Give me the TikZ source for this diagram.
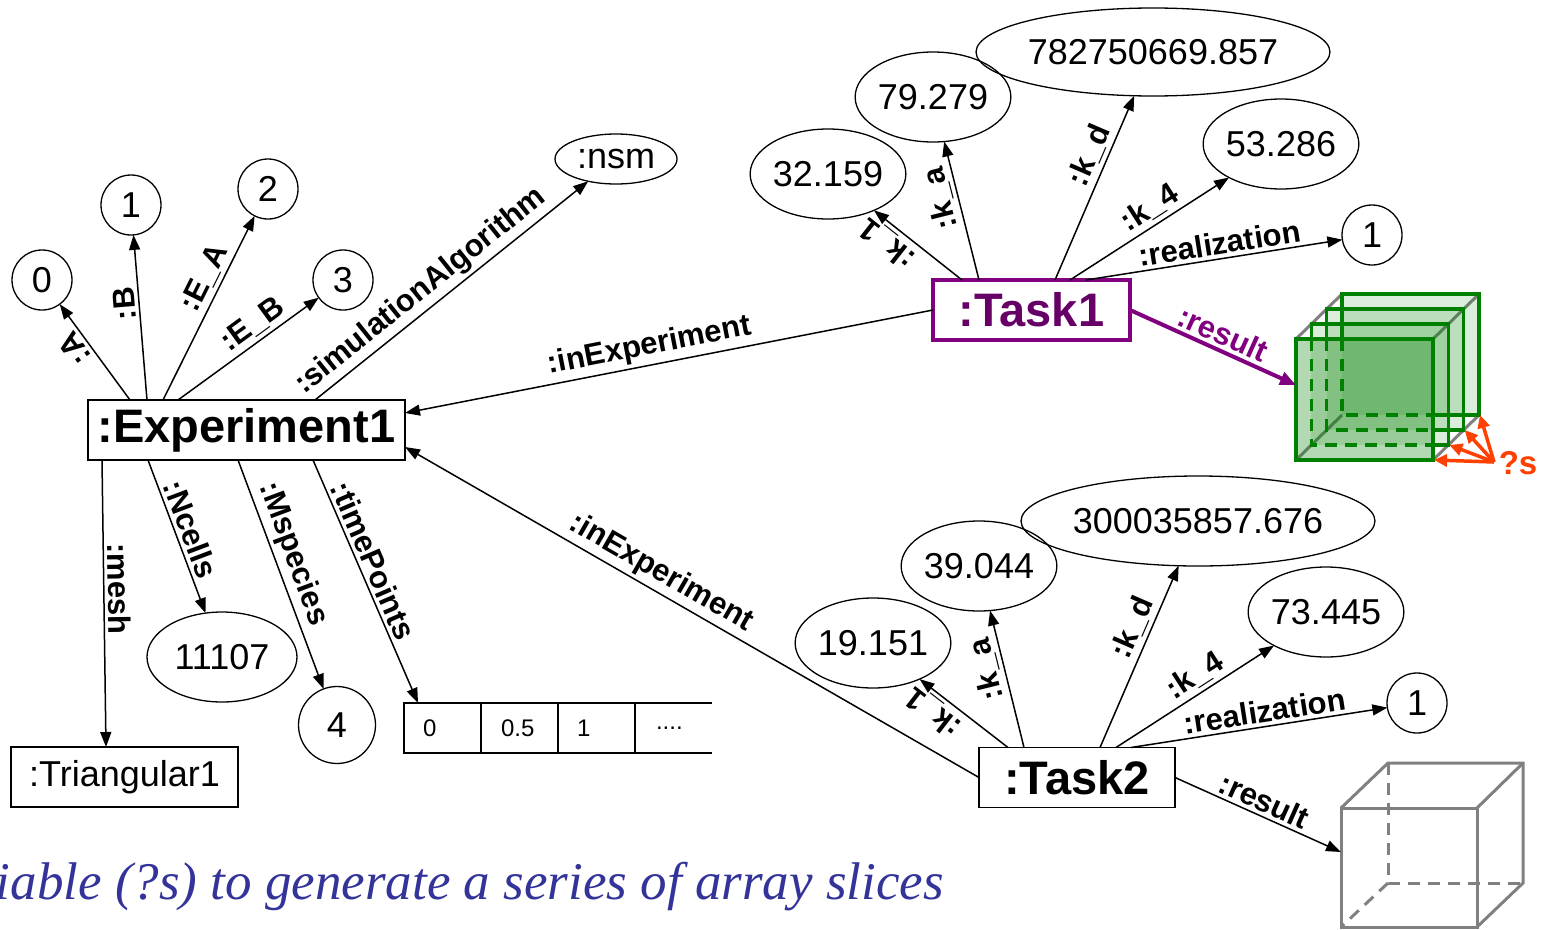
\documentclass[tikz,border=0pt]{standalone}
\usepackage{fontspec}
\setmainfont{Liberation Sans}
\newfontfamily\captionserif{Liberation Serif}
\usetikzlibrary{arrows.meta,shapes.geometric}

\definecolor{taskpurple}{RGB}{128,0,128}
\definecolor{tasktext}{RGB}{102,0,102}
\definecolor{slicegreen}{RGB}{0,128,0}
\definecolor{cubegray}{RGB}{128,128,128}
\definecolor{varred}{RGB}{255,64,0}
\definecolor{noteblue}{RGB}{51,51,153}

\newcommand\lblfont{\fontsize{31}{34}\selectfont\bfseries}
\newcommand\valfont{\fontsize{36}{40}\selectfont}
\newcommand\boxfont{\fontsize{47}{52}\selectfont\bfseries}
\newcommand\cellfont{\fontsize{24}{28}\selectfont}

\begin{document}
\begin{tikzpicture}[x=1pt,y=-1pt,
  arr/.style={line width=1.5pt,-{Triangle[length=15pt,width=11pt]}},
  arrback/.style={line width=1.5pt,{Triangle[length=15pt,width=11pt]}-},
  lbl/.style={font=\lblfont,sloped,allow upside down,above,inner sep=3.5pt},
  objbox/.style={draw,line width=1.8pt,rectangle,inner sep=0pt,outer sep=0pt,minimum height=60pt,font=\boxfont},
  val/.style={draw,ellipse,line width=1.3pt,inner sep=0pt,outer sep=0pt,minimum width=150pt,minimum height=90pt,font=\valfont},
  num/.style={draw,circle,line width=1.3pt,inner sep=0pt,outer sep=0pt,minimum size=60pt,font=\valfont},
  cell/.style={rectangle,inner sep=0pt,outer sep=0pt,minimum height=50pt,text width=77pt,align=left,font=\cellfont},
  slice/.style={draw=slicegreen,line width=3.5pt,line join=miter},
  hidden/.style={draw=slicegreen,line width=3.5pt,dash pattern=on 12pt off 8pt},
  greyedge/.style={draw=cubegray,line width=3pt},
  greyhidden/.style={draw=cubegray,line width=3pt,dash pattern=on 12pt off 8pt},
  vararrow/.style={draw=varred,line width=3.5pt,-{Triangle[length=13pt,width=12pt]}},
]
\useasboundingbox (0,0) rectangle (1542,929);
\clip (0,0) rectangle (1542,929);

% ---------- main objects ----------
\node[objbox,minimum width=317pt] (exp) at (246.5,430) {:Experiment1};
\node[objbox,minimum width=197pt,draw=taskpurple,line width=4pt,text=tasktext] (task1) at (1031.5,310) {:Task1};
\node[objbox,minimum width=196pt] (task2) at (1077,777.5) {:Task2};
\node[objbox,minimum width=227pt,line width=1.5pt,font=\valfont] (tri) at (124.5,777) {:Triangular1};

% ---------- values of Experiment1 ----------
\node[num] (c0) at (42,280) {0};
\node[num] (c1) at (131,205) {1};
\node[num] (c2) at (268,189) {2};
\node[num] (c3) at (343,280) {3};
\node[val,minimum width=122pt,minimum height=50pt] (nsm) at (616,159) {:nsm};
\node[val] (ncells) at (222,657) {11107};
\node[num,minimum size=77pt] (c4) at (337,725) {4};

% time points array
\node[cell,draw,line width=1.5pt] (a0) at (442.5,728) {\hspace*{19pt}0};
\node[cell,draw,line width=1.5pt] (a1) at (519.5,728) {\hspace*{20pt}0.5};
\node[cell,draw,line width=1.5pt] (a2) at (596.5,728) {\hspace*{19pt}1};
\node[cell] (a3) at (673.5,728) {\hspace*{21pt}....};
\draw[line width=1.5pt] (a2.north east) -- (a3.north east);
\draw[line width=1.5pt] (a2.south east) -- (a3.south east);

% ---------- values of Task1 ----------
\node[val] (v11) at (828,174) {32.159};
\node[val] (v12) at (933,97) {79.279};
\node[val,minimum width=316pt,minimum height=88pt] (v13) at (1153,52) {782750669.857};
\node[val] (v14) at (1281,144) {53.286};
\node[num] (r1) at (1372,235) {1};

% ---------- values of Task2 ----------
\node[val] (v21) at (873,643) {19.151};
\node[val] (v22) at (979,566) {39.044};
\node[val,minimum width=316pt,minimum height=90pt] (v23) at (1198,521) {300035857.676};
\node[val] (v24) at (1326,612) {73.445};
\node[num] (r2) at (1417,703) {1};

% ---------- edges of Experiment1 ----------
\draw[arr] ([xshift=42pt]exp.north west) -- node[lbl,pos=0.62]{:A} (c0);
\draw[arr] ([xshift=59pt]exp.north west) -- node[lbl,pos=0.59]{:B} (c1);
\draw[arr] ([xshift=75pt]exp.north west) -- node[lbl,pos=0.62]{:E\_A} (c2);
\draw[arr] ([xshift=90pt]exp.north west) -- node[lbl,pos=0.6]{:E\_B} (c3);
\draw[arr] ([xshift=227pt]exp.north west) -- node[lbl,pos=0.43]{:simulationAlgorithm} (nsm);
\draw[arr] ([xshift=14pt]exp.south west) -- node[lbl,pos=0.45]{:mesh} ([xshift=-18.5pt]tri.north);
\draw[arr] ([xshift=60pt]exp.south west) -- node[lbl,pos=0.49]{:Ncells} (ncells);
\draw[arr] ([xshift=150pt]exp.south west) -- node[lbl,pos=0.44]{:Mspecies} (c4);
\draw[arr] ([xshift=225pt]exp.south west) -- node[lbl,pos=0.44]{:timePoints} ([xshift=14pt]a0.north west);

\draw[arrback] ([yshift=17pt]exp.east) -- node[lbl,pos=0.47]{:inExperiment} (task1.west);
\draw[arrback] ([yshift=-17pt]exp.east) -- node[lbl,pos=0.43]{:inExperiment} (task2.west);

% ---------- edges of Task1 ----------
\draw[arr] ([xshift=29pt]task1.north west) -- node[lbl,pos=0.72]{:k\_1} (v11);
\draw[arr] ([xshift=46pt]task1.north west) -- node[lbl,pos=0.62]{:k\_a} (v12);
\draw[arr] ([xshift=122pt]task1.north west) -- node[lbl,pos=0.64]{:k\_d} (v13);
\draw[arr] ([xshift=137pt]task1.north west) -- node[lbl,pos=0.56]{:k\_4} (v14);
\draw[arr] ([xshift=153pt]task1.north west) -- node[lbl,pos=0.53]{:realization} (r1);

% ---------- edges of Task2 ----------
\draw[arr] ([xshift=29pt]task2.north west) -- node[lbl,pos=0.72]{:k\_1} (v21);
\draw[arr] ([xshift=45pt]task2.north west) -- node[lbl,pos=0.6]{:k\_a} (v22);
\draw[arr] ([xshift=121pt]task2.north west) -- node[lbl,pos=0.62]{:k\_d} (v23);
\draw[arr] ([xshift=137pt]task2.north west) -- node[lbl,pos=0.56]{:k\_4} (v24);
\draw[arr] ([xshift=152pt]task2.north west) -- node[lbl,pos=0.53]{:realization} (r2);

% ---------- result of Task1: stack of slices ----------
\coordinate (gin) at (1296,385);
\draw[greyedge] (1296,339) -- (1342,294);
\draw[greyedge] (1433,339) -- (1479,294);
\draw[greyedge] (1433,460) -- (1479,415);
\draw[greyedge] (1296,460) -- (1342,415);
\foreach \k in {3,2,1}
  \fill[slicegreen,opacity=0.14] ({1296+15.33*\k},{339-15*\k}) rectangle ({1433+15.33*\k},{460-15*\k});
\fill[slicegreen,opacity=0.3] (1296,339) rectangle (1433,460);
\foreach \k in {3,2,1} {
  \draw[slice] ({1296+15.33*\k},339) -- ({1296+15.33*\k},{339-15*\k}) -- ({1433+15.33*\k},{339-15*\k})
     -- ({1433+15.33*\k},{460-15*\k}) -- (1433,{460-15*\k});
  \draw[hidden] ({1296+15.33*\k},339) -- ({1296+15.33*\k},{460-15*\k}) -- (1433,{460-15*\k});
}
\draw[slice] (1296,339) rectangle (1433,460);
\foreach \k in {0,1,2,3}
  \coordinate (br\k) at ({1434+15.33*\k},{460-15*\k});

\draw[line width=4pt,draw=taskpurple,-{Triangle[length=16pt,width=13pt]}] (task1.east) -- node[lbl,pos=0.52,text=taskpurple]{:result} (gin);

% slice variable
\node[font=\fontsize{33}{36}\selectfont\bfseries,text=varred,inner sep=0pt] (qs) at (1518,463) {?s};
\coordinate (qsrc) at (1494,462);
\foreach \k in {0,1,2,3}
  \draw[vararrow] (qsrc) -- (br\k);

% ---------- result of Task2: empty cube ----------
\coordinate (cin) at (1341,852);
\draw[greyhidden] (1388,763) -- (1388,883) -- (1523,883);
\draw[greyhidden] (1388,883) -- (1341,927);
\draw[greyedge,line join=miter] (1341,808) -- (1388,763) -- (1523,763) -- (1523,883) -- (1477,927);
\draw[greyedge] (1477,808) -- (1523,763);
\draw[greyedge] (1341,808) rectangle (1477,927);
\draw[arr] (task2.east) -- node[lbl,pos=0.5]{:result} (cin);

% ---------- note ----------
\node[anchor=base east,inner sep=0pt,text=noteblue,font=\captionserif\fontsize{53}{60}\selectfont\itshape] (note) at (944,899) {iable (?s) to generate a series of array slices};
\end{tikzpicture}
\end{document}
